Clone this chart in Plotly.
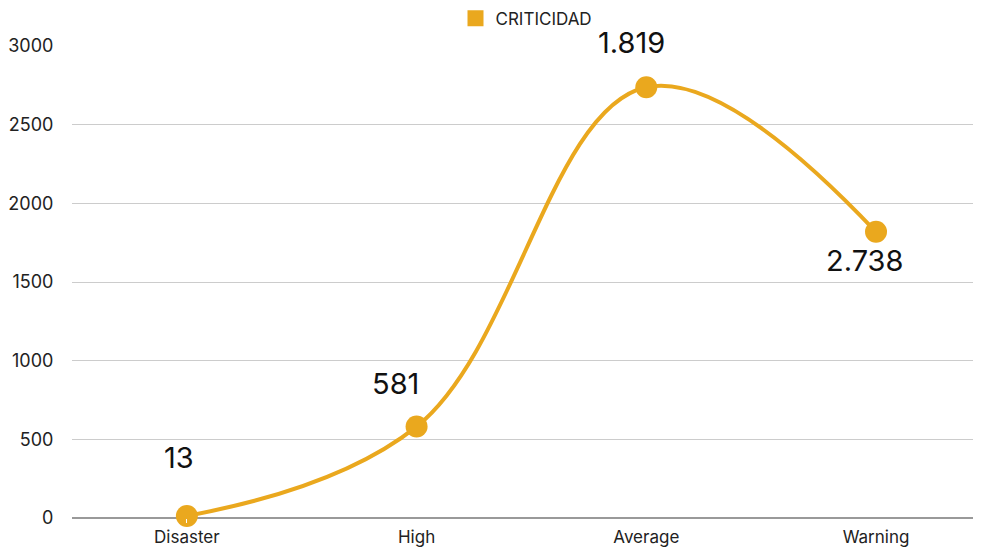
import plotly.graph_objects as go

categories = ["Disaster", "High", "Average", "Warning"]
values = [13, 581, 2738, 1819]
label_texts = ["13", "581", "1.819", "2.738"]
series_name = "CRITICIDAD"
y_ticks = [0, 500, 1000, 1500, 2000, 2500, 3000]

COLOR = "#EAA81E"
FONT = "Inter, Lato, sans-serif"

# label offsets (style only)
label_shifts = [(-8, 58), (-21, 43), (-15, 45), (-12, -29)]

fig = go.Figure()
fig.add_trace(go.Scatter(
    x=categories, y=values, mode="lines+markers",
    line=dict(color=COLOR, width=4, shape="spline", smoothing=1.1),
    marker=dict(size=22, color=COLOR),
    showlegend=False, cliponaxis=False,
))
fig.add_trace(go.Scatter(
    x=[None], y=[None], mode="markers", name=series_name,
    marker=dict(symbol="square", size=20, color=COLOR),
    showlegend=True,
))

for c, v, t, (dx, dy) in zip(categories, values, label_texts, label_shifts):
    fig.add_annotation(x=c, y=v, text=t, showarrow=False,
                       xshift=dx, yshift=dy,
                       font=dict(size=29, color="#111111", family=FONT))

fig.update_layout(
    width=973, height=540,
    margin=dict(l=64, r=0, t=38, b=30, autoexpand=False),
    plot_bgcolor="white", paper_bgcolor="white",
    font=dict(family=FONT, size=15, color="#222222"),
    legend=dict(orientation="h", x=0.5, xanchor="center", y=1.058, yanchor="middle",
                font=dict(size=17, color="#222222"),
                itemwidth=30),
    xaxis=dict(range=[-0.5, 3.457], showgrid=False, showline=False,
               ticks="outside", ticklen=4, tickcolor="white",
               tickfont=dict(size=17), automargin=False),
    yaxis=dict(range=[0, 3000], tickvals=y_ticks, showgrid=True,
               gridcolor="#CCCCCC", gridwidth=1, zeroline=True,
               zerolinecolor="#999999", zerolinewidth=1.5,
               ticks="outside", ticklen=14, tickcolor="white",
               tickfont=dict(size=18), automargin=False),
)

fig.write_html("out.html")
